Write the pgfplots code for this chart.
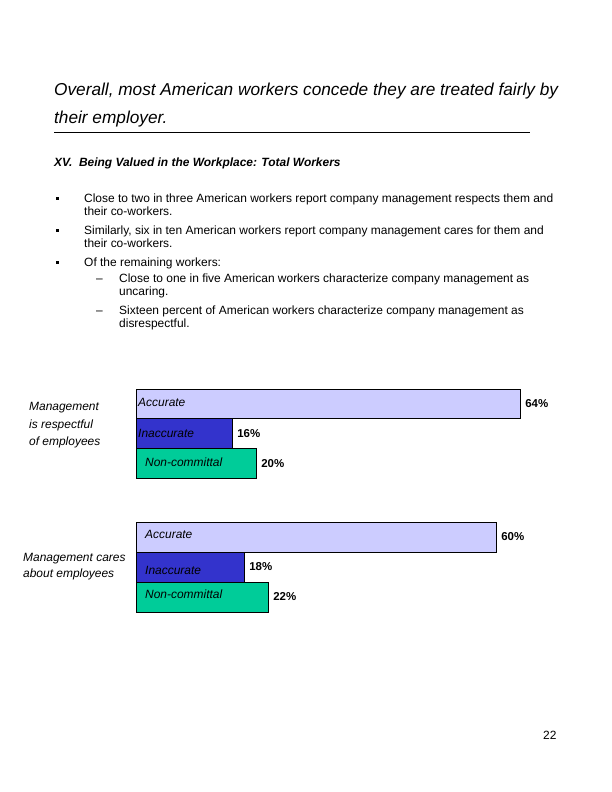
\documentclass[border=0pt]{standalone}
\usepackage{pgfplots}
\pgfplotsset{compat=1.18}
\usepackage{fontspec}
\setmainfont{Liberation Sans}
\definecolor{acc}{RGB}{204,204,255}
\definecolor{inacc}{RGB}{51,51,204}
\definecolor{nonc}{RGB}{0,204,153}
\newcommand{\fs}[1]{\fontsize{#1}{#1}\selectfont}
\begin{document}
\begin{tikzpicture}
\useasboundingbox (0,0) rectangle (612bp,-792bp);
% title
\node[anchor=base west, inner sep=0, font=\itshape\fs{17.3}] at (54bp,-95bp) {Overall, most American workers concede they are treated fairly by};
\node[anchor=base west, inner sep=0, font=\itshape\fs{17.3}] at (54bp,-123bp) {their employer.};
\draw[line width=1bp] (54bp,-132bp) -- (530bp,-132bp);
% subtitle
\node[anchor=base west, inner sep=0, font=\bfseries\itshape\fs{12}] at (54bp,-166bp) {XV.\ \ Being Valued in the Workplace: Total Workers};
% bullets
\foreach \y in {202,234,266} {\fill (56bp,-\y bp+2.5bp) rectangle (58.5bp,-\y bp+5.5bp);}
\begin{scope}[every node/.style={anchor=base west, inner sep=0, font=\fs{12}}]
\node at (84bp,-202bp) {Close to two in three American workers report company management respects them and};
\node at (84bp,-215bp) {their co-workers.};
\node at (84bp,-234bp) {Similarly, six in ten American workers report company management cares for them and};
\node at (84bp,-247bp) {their co-workers.};
\node at (84bp,-266bp) {Of the remaining workers:};
\node at (96bp,-282bp) {–};
\node at (119bp,-282bp) {Close to one in five American workers characterize company management as};
\node at (119bp,-295bp) {uncaring.};
\node at (96bp,-314bp) {–};
\node at (119bp,-314bp) {Sixteen percent of American workers characterize company management as};
\node at (119bp,-327bp) {disrespectful.};
\end{scope}
% left labels
\begin{scope}[every node/.style={anchor=base west, inner sep=0, font=\itshape\fs{12}}]
\node at (29bp,-410bp) {Management};
\node at (29bp,-428bp) {is respectful};
\node at (29bp,-445bp) {of employees};
\node at (23bp,-561bp) {Management cares};
\node at (23bp,-577bp) {about employees};
\end{scope}
% chart 1
\begin{axis}[at={(136bp,-389bp)}, anchor=north west, scale only axis,
  width=480bp, height=89bp, xmin=0, xmax=80, ymin=-0.5, ymax=2.5,
  hide axis, clip=false,
  /pgf/number format/assume math mode=true,
  every axis plot/.append style={xbar, bar width=29.7bp, bar shift=0pt, draw=black, line width=0.7bp},
  nodes near coords={\pgfmathprintnumber{\pgfplotspointmeta}\%},
  point meta=x,
  every node near coord/.append style={anchor=west, inner sep=0, xshift=5bp, font=\bfseries\fs{11.5}, text=black}]
\addplot[fill=acc] coordinates {(64,2)};
\addplot[fill=inacc] coordinates {(16,1)};
\addplot[fill=nonc] coordinates {(20,0)};
\end{axis}
% chart 2
\begin{axis}[at={(136bp,-522bp)}, anchor=north west, scale only axis,
  width=480bp, height=90bp, xmin=0, xmax=80, ymin=-0.5, ymax=2.5,
  hide axis, clip=false,
  /pgf/number format/assume math mode=true,
  every axis plot/.append style={xbar, bar width=30bp, bar shift=0pt, draw=black, line width=0.7bp},
  nodes near coords={\pgfmathprintnumber{\pgfplotspointmeta}\%},
  point meta=x,
  every node near coord/.append style={anchor=west, inner sep=0, xshift=5bp, font=\bfseries\fs{11.5}, text=black}]
\addplot[fill=acc] coordinates {(60,2)};
\addplot[fill=inacc] coordinates {(18,1)};
\addplot[fill=nonc] coordinates {(22,0)};
\end{axis}
% bar inner labels
\begin{scope}[every node/.style={anchor=base west, inner sep=0, font=\itshape\fs{12}}]
\node at (138bp,-406bp) {Accurate};
\node at (138bp,-437bp) {Inaccurate};
\node at (145bp,-466bp) {Non-committal};
\node at (145bp,-538bp) {Accurate};
\node at (145bp,-574bp) {Inaccurate};
\node at (145bp,-598bp) {Non-committal};
\end{scope}
% page number
\node[anchor=base west, inner sep=0, font=\fs{12}] at (543bp,-739bp) {22};
\end{tikzpicture}
\end{document}
